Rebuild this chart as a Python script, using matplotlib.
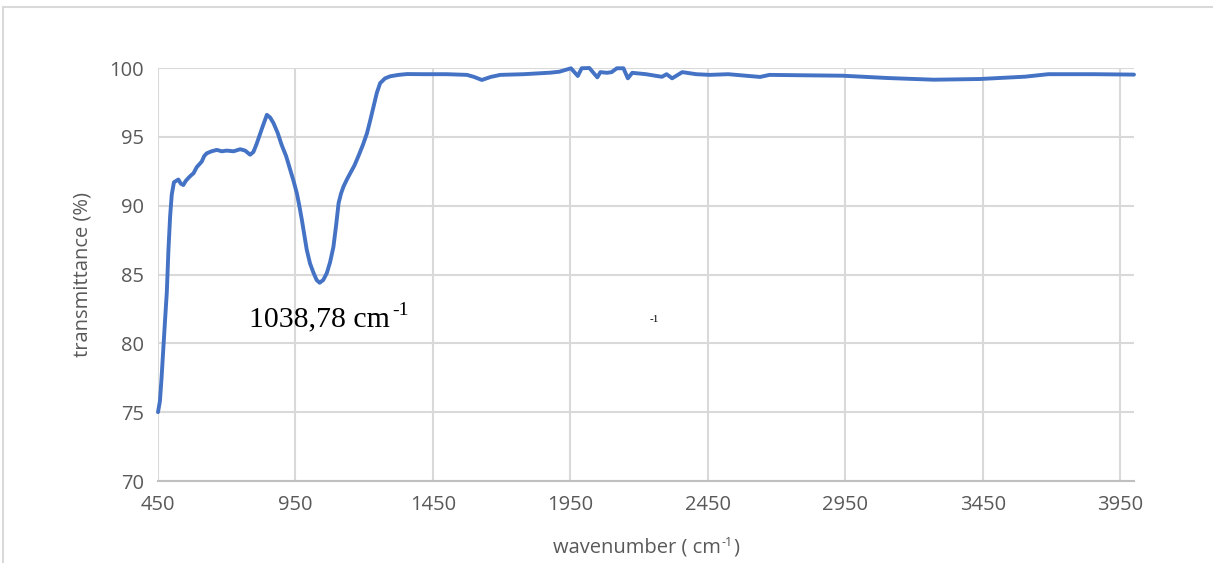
import matplotlib
matplotlib.use("Agg")
import matplotlib.pyplot as plt
from matplotlib.patches import Rectangle

# FTIR spectrum: wavenumber (cm-1) vs transmittance (%)
wavenumber = [450, 457, 463, 469, 476, 482, 488, 494, 500, 508, 516, 524, 533, 542, 551,
              560, 570, 579, 591, 600, 609, 618, 627, 645, 664, 682, 700, 725, 749, 767,
              785, 797, 809, 828, 846, 858, 870, 885, 900, 916, 931, 943, 955, 964, 973,
              982, 991, 1003, 1016, 1027, 1038, 1051, 1064, 1076, 1088, 1098, 1107, 1116,
              1125, 1137, 1149, 1164, 1179, 1195, 1210, 1222, 1234, 1246, 1258, 1276, 1295,
              1325, 1356, 1420, 1500, 1574, 1600, 1628, 1660, 1695, 1780, 1877, 1910, 1952,
              1977, 1991, 2019, 2048, 2059, 2083, 2100, 2119, 2143, 2159, 2175, 2225, 2283,
              2300, 2320, 2357, 2407, 2457, 2524, 2640, 2674, 2800, 2940, 3106, 3272, 3438,
              3604, 3688, 3854, 4000]
transmittance = [75.0, 75.8, 77.5, 79.5, 81.8, 83.7, 86.8, 89.2, 90.8, 91.7, 91.8, 91.9, 91.6,
                 91.5, 91.8, 92.0, 92.2, 92.35, 92.8, 93.0, 93.2, 93.6, 93.8, 93.95, 94.05,
                 93.95, 94.0, 93.95, 94.1, 94.0, 93.7, 93.9, 94.5, 95.6, 96.6, 96.4, 96.0,
                 95.3, 94.4, 93.6, 92.6, 91.8, 90.9, 90.0, 89.0, 87.9, 86.8, 85.8, 85.1,
                 84.6, 84.4, 84.6, 85.1, 85.9, 87.0, 88.6, 90.2, 90.9, 91.4, 91.9, 92.35,
                 92.9, 93.6, 94.4, 95.25, 96.2, 97.2, 98.2, 98.9, 99.25, 99.4, 99.5, 99.56,
                 99.55, 99.55, 99.5, 99.35, 99.13, 99.35, 99.5, 99.55, 99.66, 99.73, 99.98,
                 99.42, 99.98, 100.0, 99.32, 99.7, 99.65, 99.7, 99.98, 99.98, 99.25, 99.65,
                 99.55, 99.36, 99.55, 99.25, 99.7, 99.55, 99.5, 99.55, 99.35, 99.5, 99.47,
                 99.44, 99.27, 99.15, 99.2, 99.37, 99.55, 99.55, 99.52]

x_ticks = [450, 950, 1450, 1950, 2450, 2950, 3450, 3950]
y_ticks = [70, 75, 80, 85, 90, 95, 100]

peak_wavenumber = 1038.78
peak_text = "1038,78 cm"

W, H = 1213, 563
fig = plt.figure(figsize=(W / 100, H / 100), dpi=100)
ax = fig.add_axes([158 / W, 1 - 481 / H, (1134 - 158) / W, (481 - 68) / H])

tick_color = "#595959"
grid_color = "#d9d9d9"
sans = "Open Sans"
serif = "Liberation Serif"

ax.plot(wavenumber, transmittance, color="#4472C4", lw=2.8, solid_joinstyle="round",
        solid_capstyle="round", zorder=3, clip_on=False)

ax.set_xlim(450, 4000)
ax.set_ylim(70, 100)
ax.set_xticks(x_ticks)
ax.set_yticks(y_ticks)
ax.grid(True, color=grid_color, lw=1.5, zorder=0)
ax.set_axisbelow(True)
for side in ["top", "right", "left"]:
    ax.spines[side].set_visible(False)
ax.spines["bottom"].set_color("#bfbfbf")
ax.spines["bottom"].set_linewidth(1.5)
ax.tick_params(length=0, pad=10, labelsize=14.5, labelcolor=tick_color)
for lab in ax.get_xticklabels() + ax.get_yticklabels():
    lab.set_family(sans)

ax.set_ylabel("transmittance (%)", fontsize=14.5, color=tick_color,
              family=sans, labelpad=12)

renderer = fig.canvas.get_renderer()

# x axis title: "wavenumber ( cm" + superscript + ")"
xl_main = fig.text(0, 0, "wavenumber ( cm", fontsize=14.5, color=tick_color, family=sans,
                   ha="left", va="baseline")
xl_sup = fig.text(0, 0, "-1", fontsize=9, color=tick_color, family=sans,
                  ha="left", va="baseline")
xl_end = fig.text(0, 0, ")", fontsize=14.5, color=tick_color, family=sans,
                  ha="left", va="baseline")
w_main = xl_main.get_window_extent(renderer).width
w_sup = xl_sup.get_window_extent(renderer).width
w_end = xl_end.get_window_extent(renderer).width
total = w_main + w_sup + w_end + 1
x0 = 646 - total / 2
base_y = H - 553
xl_main.set_position((x0 / W, base_y / H))
xl_sup.set_position(((x0 + w_main + 0.5) / W, (base_y + 7) / H))
xl_end.set_position(((x0 + w_main + w_sup + 1) / W, base_y / H))

# peak annotation with its superscript right after "cm"
peak = ax.text(peak_wavenumber - 2, 81.25, peak_text, family=serif,
               fontsize=21.5, color="black", ha="center", va="baseline")
pbb = peak.get_window_extent(renderer)
ax_base = ax.transData.transform((peak_wavenumber, 81.25))[1]
fig.text((pbb.x1 + 2) / W, (ax_base + 11) / H, "-1", family=serif, fontsize=14,
         color="black", ha="left", va="baseline")

ax.text(2255, 81.55, "-1", family=serif, fontsize=8,
        color="black", ha="center", va="baseline")

# light frame around the chart area
fig.patches.append(Rectangle((3 / W, -0.1), (1215 - 3) / W, 1.1 - 7 / H,
                             transform=fig.transFigure, fill=False,
                             edgecolor="#d9d9d9", lw=1.5))

fig.savefig("out.png", dpi=100, facecolor="white")
